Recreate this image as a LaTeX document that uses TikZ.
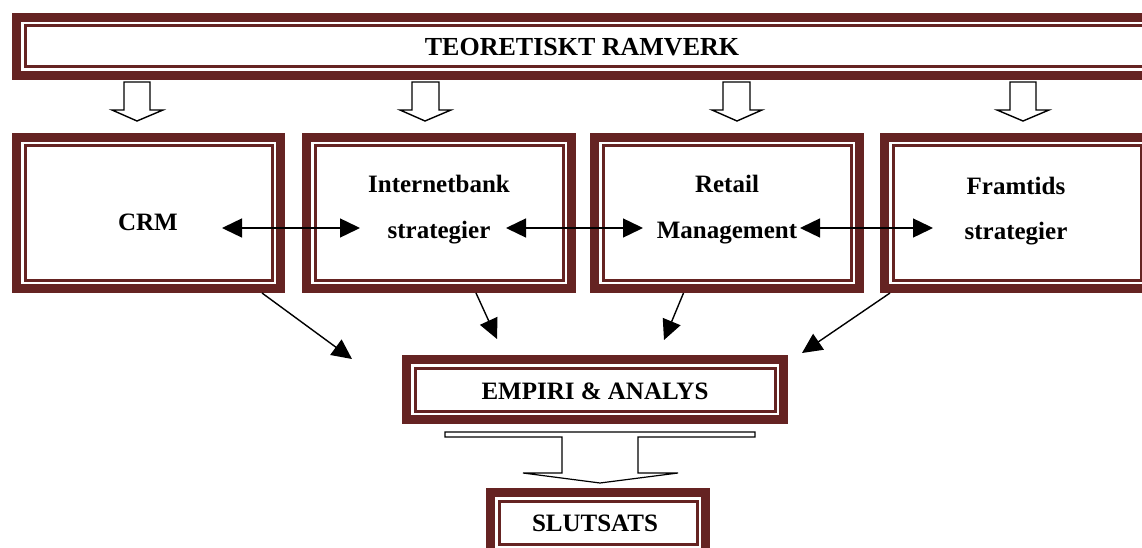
\documentclass[tikz,border=0pt]{standalone}
\usepackage{fontspec}
\setmainfont{Liberation Serif}
\usetikzlibrary{arrows.meta}
\definecolor{framec}{RGB}{101,35,34}
\newcommand\rsbox[5]{%
  \node[fbox, minimum width={#4-#2-26}, minimum height={#5-#3-26}] (#1) at ({(#2+#4)/2},{(#3+#5)/2}) {};
  \draw[band] ([xshift=-8.5pt,yshift=8.5pt]#1.north west) rectangle ([xshift=8.5pt,yshift=-8.5pt]#1.south east);
}
\newcommand\rsdown[5]{% stem left, stem right, head left, head right, tip x
  \draw[blk] (#1,82) -- (#2,82) -- (#2,110) -- (#4,110) -- (#5,121) -- (#3,110) -- (#1,110) -- cycle;
}
\begin{document}
\begin{tikzpicture}[x=1pt,y=-1pt,
  fbox/.style={draw=framec, line width=3pt, outer sep=0pt, inner sep=0pt, fill=white},
  band/.style={draw=framec, line width=9pt},
  lbl/.style={font=\bfseries\fontsize{25}{30}\selectfont, anchor=base, inner sep=0pt},
  blk/.style={draw=black, line width=1.4pt, fill=white, line join=miter},
  tipT/.style={-{Triangle[length=20pt,width=19pt]}},
  link/.style={draw=black, line width=1.4pt, tipT},
  dlink/.style={draw=black, line width=1.4pt, {Triangle[length=20pt,width=19pt]}-{Triangle[length=20pt,width=19pt]}},
]
\useasboundingbox[fill=white] (0,0) rectangle (1142,548);

% frames
\rsbox{top}{12}{13}{1156}{80}
\rsbox{crm}{12}{133}{285}{293}
\rsbox{ib}{302}{133}{576}{293}
\rsbox{rm}{590}{133}{864}{293}
\rsbox{ft}{880}{133}{1154}{293}
\rsbox{ea}{402}{355}{788}{424}
\rsbox{sl}{486}{488}{710}{557}

% labels
\node[lbl, font=\bfseries\fontsize{26}{30}\selectfont] (topt) at (582,56) {TEORETISKT RAMVERK};
\node[lbl] (crmt) at (148,230) {CRM};
\node[lbl] (ibt1) at (439,193) {Internetbank};
\node[lbl] (ibt2) at (439,238) {strategier};
\node[lbl] (rmt1) at (727,193) {Retail};
\node[lbl] (rmt2) at (727,238) {Management};
\node[lbl] (ftt1) at (1016,194) {Framtids};
\node[lbl] (ftt2) at (1016,239) {strategier};
\node[lbl] (eat) at (595,399) {EMPIRI \& ANALYS};
\node[lbl] (slt) at (595,531) {SLUTSATS};

% block arrows from the top frame
\rsdown{124}{150}{112}{163}{137}
\rsdown{412}{439}{400}{451}{425}
\rsdown{723}{750}{712}{762}{737}
\rsdown{1010}{1036}{997}{1049}{1023}

% block arrow to SLUTSATS
\draw[blk, line width=1.2pt] (445,432) -- (755,432) -- (755,437) -- (638,437) -- (638,473) -- (678,473)
  -- (600,483) -- (523,473) -- (562,473) -- (562,437) -- (445,437) -- cycle;

% horizontal double arrows
\coordinate (h1a) at (222,228); \coordinate (h1b) at (360,228);
\coordinate (h2a) at (506,228); \coordinate (h2b) at (643,228);
\coordinate (h3a) at (800,228); \coordinate (h3b) at (933,228);
\draw[dlink] (h1a) -- (h1b);
\draw[dlink] (h2a) -- (h2b);
\draw[dlink] (h3a) -- (h3b);

% diagonal arrows to EMPIRI & ANALYS
\coordinate (d1a) at (262,293); \coordinate (d1b) at (352,359);
\coordinate (d2a) at (476,293); \coordinate (d2b) at (497,339);
\coordinate (d3a) at (683.5,293); \coordinate (d3b) at (664,340);
\coordinate (d4a) at (890,293); \coordinate (d4b) at (802,353);
\draw[link] (d1a) -- (d1b);
\draw[link] (d2a) -- (d2b);
\draw[link] (d3a) -- (d3b);
\draw[link] (d4a) -- (d4b);
\end{tikzpicture}
\end{document}
